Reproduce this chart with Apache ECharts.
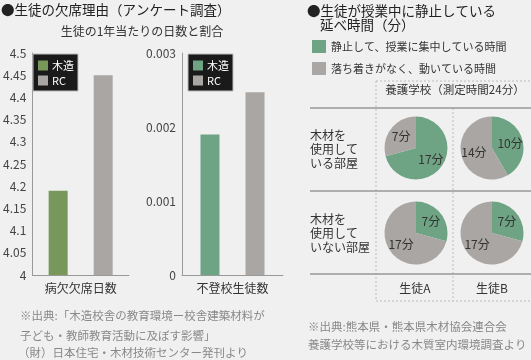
<!DOCTYPE html>
<html><head><meta charset="utf-8">
<script src="https://cdn.jsdelivr.net/npm/echarts@6/dist/echarts.min.js"></script>
<style>html,body{margin:0;padding:0;background:#f0f0f0;}#c{width:531px;height:360px;}</style>
</head><body><div id="c"></div>
<script>
// ---- data ----
const absenceCategories = ['病欠欠席日数'];
const truancyCategories = ['不登校生徒数'];
const absenceWood = [4.19];
const absenceRC = [4.45];
const truancyWood = [0.0019];
const truancyRC = [0.00247];
const absenceAxis = {min: 4, max: 4.5, interval: 0.05};
const truancyAxis = {min: 0, max: 0.003, interval: 0.001};
const pieNames = ['静止して、授業に集中している時間', '落ち着きがなく、動いている時間'];
const pieWoodA = [17, 7];
const pieWoodB = [10, 14];
const pieNonWoodA = [7, 17];
const pieNonWoodB = [7, 17];
const colLabels = ['生徒A', '生徒B'];
const rowLabels = ['木材を\n使用して\nいる部屋', '木材を\n使用して\nいない部屋'];

const FONT = '"Noto Sans CJK JP", "Noto Sans", sans-serif';
const GREEN1 = '#77985a', GREEN2 = '#6ea384', GRAY = '#aaa6a3';

const chart = echarts.init(document.getElementById('c'));

function yAxis(gi, ax) {
  return {type: 'value', gridIndex: gi, min: ax.min, max: ax.max, interval: ax.interval,
    axisLine: {show: true, lineStyle: {color: '#999', width: 1}}, axisTick: {show: false},
    splitLine: {show: false},
    axisLabel: {color: '#444', fontSize: 12, fontFamily: FONT, margin: 6}};
}
function xAxis(gi, cats) {
  return {type: 'category', gridIndex: gi, data: cats,
    axisLine: {lineStyle: {color: '#999', width: 1}}, axisTick: {show: false},
    axisLabel: {color: '#333', fontSize: 12, fontFamily: FONT, margin: 7}};
}
function bar(name, gi, data, color) {
  return {type: 'bar', name: name, xAxisIndex: gi, yAxisIndex: gi, data: data,
    barWidth: 19, barGap: '137%', itemStyle: {color: color}};
}
function pie(data, cx, cy) {
  return {type: 'pie', center: [cx, cy], radius: [0, 31.5], startAngle: 90, clockwise: true,
    color: [GREEN2, GRAY], silent: true,
    label: {show: true, position: 'inside', formatter: '{c}分', color: '#333', fontSize: 12, fontFamily: FONT},
    labelLine: {show: false},
    data: pieNames.map((n, i) => ({name: n, value: data[i]}))};
}
function barLegend(left, names) {
  return {left: left, top: 54, orient: 'vertical', data: names, icon: 'rect',
    itemWidth: 10, itemHeight: 10, itemGap: 4, padding: [6, 4, 5, 5],
    backgroundColor: '#1a1a1a', borderColor: '#bbb', borderWidth: 1,
    formatter: n => n.trim(),
    textStyle: {color: '#fff', fontSize: 11, fontFamily: FONT, padding: [0, 0, 0, -1]}};
}
function txt(x, y, s, size, color, align) {
  return {type: 'text', x: x, y: y, style: {text: s, fontSize: size, fontFamily: FONT, fill: color,
    textAlign: align || 'left', textVerticalAlign: 'middle', lineHeight: 14}};
}
function line(x1, y1, x2, y2, dashed) {
  return {type: 'line', shape: {x1: x1, y1: y1, x2: x2, y2: y2}, silent: true,
    style: dashed ? {stroke: '#bbb', lineWidth: 1, lineDash: [2, 2]} : {stroke: '#999', lineWidth: 1.5}};
}

chart.setOption({
  backgroundColor: '#f0f0f0',
  animation: false,
  grid: [
    {left: 28, right: 402, top: 53, bottom: 85},
    {left: 182, right: 248, top: 53, bottom: 85}
  ],
  xAxis: [xAxis(0, absenceCategories), xAxis(1, truancyCategories)],
  yAxis: [yAxis(0, absenceAxis), yAxis(1, truancyAxis)],
  legend: [
    barLegend(33, ['木造', 'RC']),
    barLegend(188, ['木造 ', 'RC ']),
    {left: 312, top: 40, orient: 'vertical', data: pieNames, icon: 'rect',
      itemWidth: 14, itemHeight: 13, itemGap: 9, padding: 0,
      textStyle: {color: '#333', fontSize: 11, fontFamily: FONT}}
  ],
  series: [
    bar('木造', 0, absenceWood, GREEN1),
    bar('RC', 0, absenceRC, GRAY),
    bar('木造 ', 1, truancyWood, GREEN2),
    bar('RC ', 1, truancyRC, GRAY),
    pie(pieWoodA, 416, 148),
    pie(pieWoodB, 492, 148),
    pie(pieNonWoodA, 416, 233),
    pie(pieNonWoodB, 492, 233)
  ],
  graphic: [
    txt(1, 10, '●生徒の欠席理由（アンケート調査）', 13.5, '#222'),
    txt(142, 31, '生徒の1年当たりの日数と割合', 12, '#333', 'center'),
    txt(20, 316, '※出典:「木造校舎の教育環境ー校舎建築材料が', 11.5, '#888'),
    txt(20, 336, '子ども・教師教育活動に及ぼす影響」', 11.5, '#888'),
    txt(18, 353, '（財）日本住宅・木材技術センター発刊より', 11.5, '#888'),
    txt(307, 11, '●生徒が授業中に静止している', 13.5, '#222'),
    txt(320, 25, '延べ時間（分）', 13.5, '#222'),
    txt(455, 90, '養護学校（測定時間24分）', 11.5, '#333', 'center'),
    txt(310, 149, rowLabels[0], 12, '#333'),
    txt(310, 233, rowLabels[1], 12, '#333'),
    txt(415, 288, colLabels[0], 12, '#333', 'center'),
    txt(492, 288, colLabels[1], 12, '#333', 'center'),
    txt(308, 327, '※出典:熊本県・熊本県木材協会連合会', 11.5, '#888'),
    txt(308, 345, '養護学校等における木質室内環境調査より', 11.5, '#888'),
    line(376, 81, 531, 81, true),
    line(376, 81, 376, 301, true),
    line(453, 108, 453, 301, true),
    line(376, 301, 531, 301, true),
    line(310, 108, 531, 108, false),
    line(310, 191, 531, 191, false),
    line(310, 274, 531, 274, false)
  ]
});
</script></body></html>
